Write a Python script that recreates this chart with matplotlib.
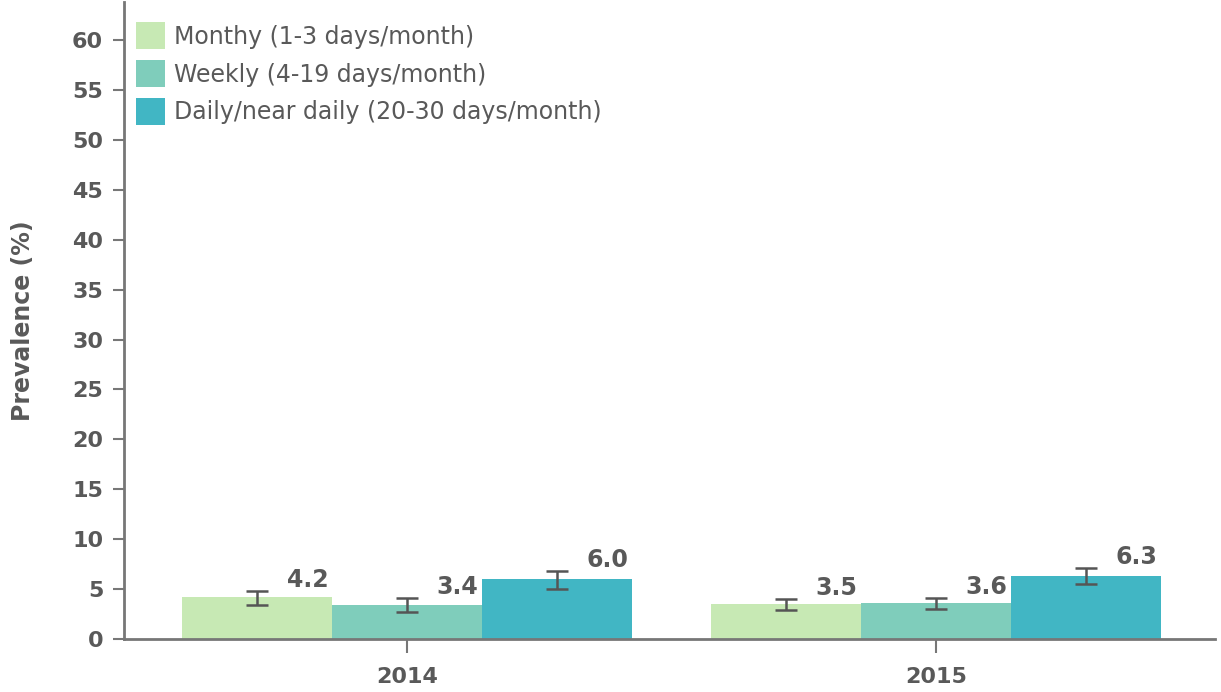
import matplotlib
matplotlib.use("Agg")
import matplotlib.pyplot as plt
import numpy as np

years = ["2014", "2015"]
series = ["Monthy (1-3 days/month)", "Weekly (4-19 days/month)", "Daily/near daily (20-30 days/month)"]
values = {
    "Monthy (1-3 days/month)": [4.2, 3.5],
    "Weekly (4-19 days/month)": [3.4, 3.6],
    "Daily/near daily (20-30 days/month)": [6.0, 6.3],
}
err_low = {
    "Monthy (1-3 days/month)": [3.4, 2.9],
    "Weekly (4-19 days/month)": [2.7, 3.0],
    "Daily/near daily (20-30 days/month)": [5.0, 5.5],
}
err_high = {
    "Monthy (1-3 days/month)": [4.8, 4.0],
    "Weekly (4-19 days/month)": [4.1, 4.1],
    "Daily/near daily (20-30 days/month)": [6.8, 7.1],
}
labels = {
    "Monthy (1-3 days/month)": ["4.2", "3.5"],
    "Weekly (4-19 days/month)": ["3.4", "3.6"],
    "Daily/near daily (20-30 days/month)": ["6.0", "6.3"],
}
colors = ["#C7E9B4", "#7FCDBB", "#41B6C4"]
yticks = list(range(0, 61, 5))

TXT = "#595959"
AX = "#777777"
plt.rcParams['font.family'] = ['DejaVu Sans']

fig = plt.figure(figsize=(12.21, 6.92), dpi=100)
ax = fig.add_axes([0.1016, 0.0766, 0.8934, 0.9204])

x = np.arange(len(years))
w = 0.2835
for i, s in enumerate(series):
    xs = x + (i - 1) * w
    v = np.array(values[s])
    lo = v - np.array(err_low[s])
    hi = np.array(err_high[s]) - v
    ax.bar(xs, v, width=w, color=colors[i], label=s, zorder=2)
    ax.errorbar(xs, v, yerr=[lo, hi], fmt='none', ecolor="#555555",
                elinewidth=1.8, capsize=8, capthick=1.8, zorder=3)
    for xi, yh, t in zip(xs, err_high[s], labels[s]):
        ax.text(xi + 0.095, yh - 0.05, t, ha='center', va='bottom', fontsize=17,
                fontweight='bold', color=TXT, zorder=4)

ax.set_xlim(-0.535, 1.527)
ax.set_ylim(0, 63.8)
ax.set_yticks(yticks)
ax.set_xticks(x)
ax.set_xticklabels(years)
for sp in ["top", "right"]:
    ax.spines[sp].set_visible(False)
for sp in ["left", "bottom"]:
    ax.spines[sp].set_color(AX)
    ax.spines[sp].set_linewidth(2)
ax.tick_params(axis='y', colors=AX, length=8, width=1.5, labelsize=16, pad=7)
ax.tick_params(axis='x', colors=AX, length=10, width=1.5, labelsize=16, pad=10)
for lab in ax.get_yticklabels() + ax.get_xticklabels():
    lab.set_fontweight('bold')
    lab.set_color(TXT)
ax.set_ylabel("Prevalence (%)", fontsize=17, fontweight='bold', color=TXT, labelpad=27)

leg = ax.legend(loc='upper left', bbox_to_anchor=(-0.007, 1.0), frameon=False,
                fontsize=17, handlelength=1.2, handleheight=1.4,
                labelspacing=0.45, handletextpad=0.4, borderaxespad=0.55,
                borderpad=0.3)
for t in leg.get_texts():
    t.set_color(TXT)

fig.savefig("out.png", dpi=100)
